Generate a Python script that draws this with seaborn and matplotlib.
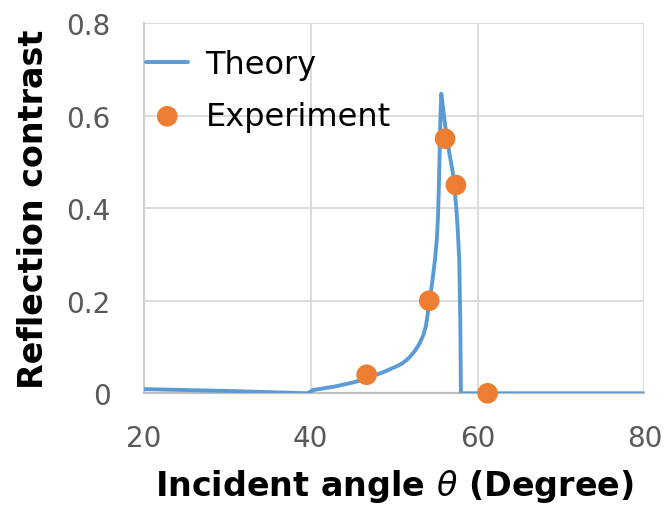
import matplotlib
matplotlib.use("Agg")
import matplotlib.pyplot as plt
import seaborn as sns
import pandas as pd

# Theoretical reflection contrast vs incident angle
theory_angle = [20, 30, 39.6, 40.3, 42, 43, 44, 45, 46, 47, 48, 49, 50, 50.5,
                51, 51.5, 52, 52.5, 53, 53.5, 53.8, 54.0, 54.2, 54.45, 54.7,
                54.9, 55.1, 55.25, 55.35, 55.45, 55.55, 55.65, 55.9, 56.1,
                56.6, 57.0, 57.2, 57.45, 57.6, 57.8, 57.93, 58.0, 80]
theory_contrast = [0.009, 0.005, 0.0, 0.007, 0.012, 0.015, 0.019, 0.023, 0.028,
                   0.034, 0.041, 0.048, 0.056, 0.060, 0.065, 0.072, 0.081,
                   0.092, 0.106, 0.126, 0.145, 0.168, 0.20, 0.225, 0.26, 0.29,
                   0.33, 0.38, 0.44, 0.52, 0.60, 0.647, 0.61, 0.58, 0.52, 0.48,
                   0.45, 0.40, 0.36, 0.29, 0.15, 0.0, 0.0]

# Measured reflection contrast
exp_angle = [46.7, 54.2, 56.1, 57.4, 61.2]
exp_contrast = [0.04, 0.20, 0.55, 0.45, 0.0]

x_ticks = [20, 40, 60, 80]
y_ticks = [0, 0.2, 0.4, 0.6, 0.8]
y_tick_labels = ["0", "0.2", "0.4", "0.6", "0.8"]

BLUE = "#5B9BD5"
ORANGE = "#ED7D31"
GRID = "#D9D9D9"
TICK = "#595959"

sns.set_theme(style="white")
plt.rcParams["font.family"] = ["DejaVu Sans"]

theory_df = pd.DataFrame({"angle": theory_angle, "contrast": theory_contrast})
exp_df = pd.DataFrame({"angle": exp_angle, "contrast": exp_contrast})

fig = plt.figure(figsize=(6.65, 5.06), dpi=100)
ax = fig.add_axes([0.2165, 0.2208, 0.7525, 0.7318])

sns.lineplot(data=theory_df, x="angle", y="contrast", ax=ax, color=BLUE,
             linewidth=2.8, estimator=None, sort=False, label="Theory",
             zorder=3)
sns.scatterplot(data=exp_df, x="angle", y="contrast", ax=ax, color=ORANGE,
                s=220, edgecolor="none", label="Experiment", zorder=4,
                clip_on=False)

ax.set_xlim(20, 80)
ax.set_ylim(0, 0.8)
ax.set_xticks(x_ticks)
ax.set_yticks(y_ticks)
ax.set_yticklabels(y_tick_labels)

ax.grid(True, color=GRID, linewidth=1.3)
ax.set_axisbelow(True)
for side in ["top", "right"]:
    ax.spines[side].set_visible(False)
ax.spines["left"].set_color("#D0D0D0")
ax.spines["left"].set_linewidth(1.6)
ax.spines["bottom"].set_color("#BFBFBF")
ax.spines["bottom"].set_linewidth(1.6)

ax.tick_params(axis="both", length=0, labelsize=20, labelcolor=TICK)
ax.tick_params(axis="y", pad=24)
ax.tick_params(axis="x", pad=22)

ax.set_xlabel(r"Incident angle $\theta$ (Degree)", fontsize=24,
              fontweight="bold", color="black", labelpad=11)
ax.set_ylabel("Reflection contrast", fontsize=24, fontweight="bold",
              color="black", labelpad=12)

leg = ax.legend(loc="upper left", bbox_to_anchor=(0.005, 0.93), frameon=False,
                fontsize=23, handlelength=1.3, handletextpad=0.55,
                labelspacing=0.65, borderaxespad=0.0, borderpad=0.0)
for txt in leg.get_texts():
    txt.set_color("black")

fig.savefig("out.png", dpi=100)
